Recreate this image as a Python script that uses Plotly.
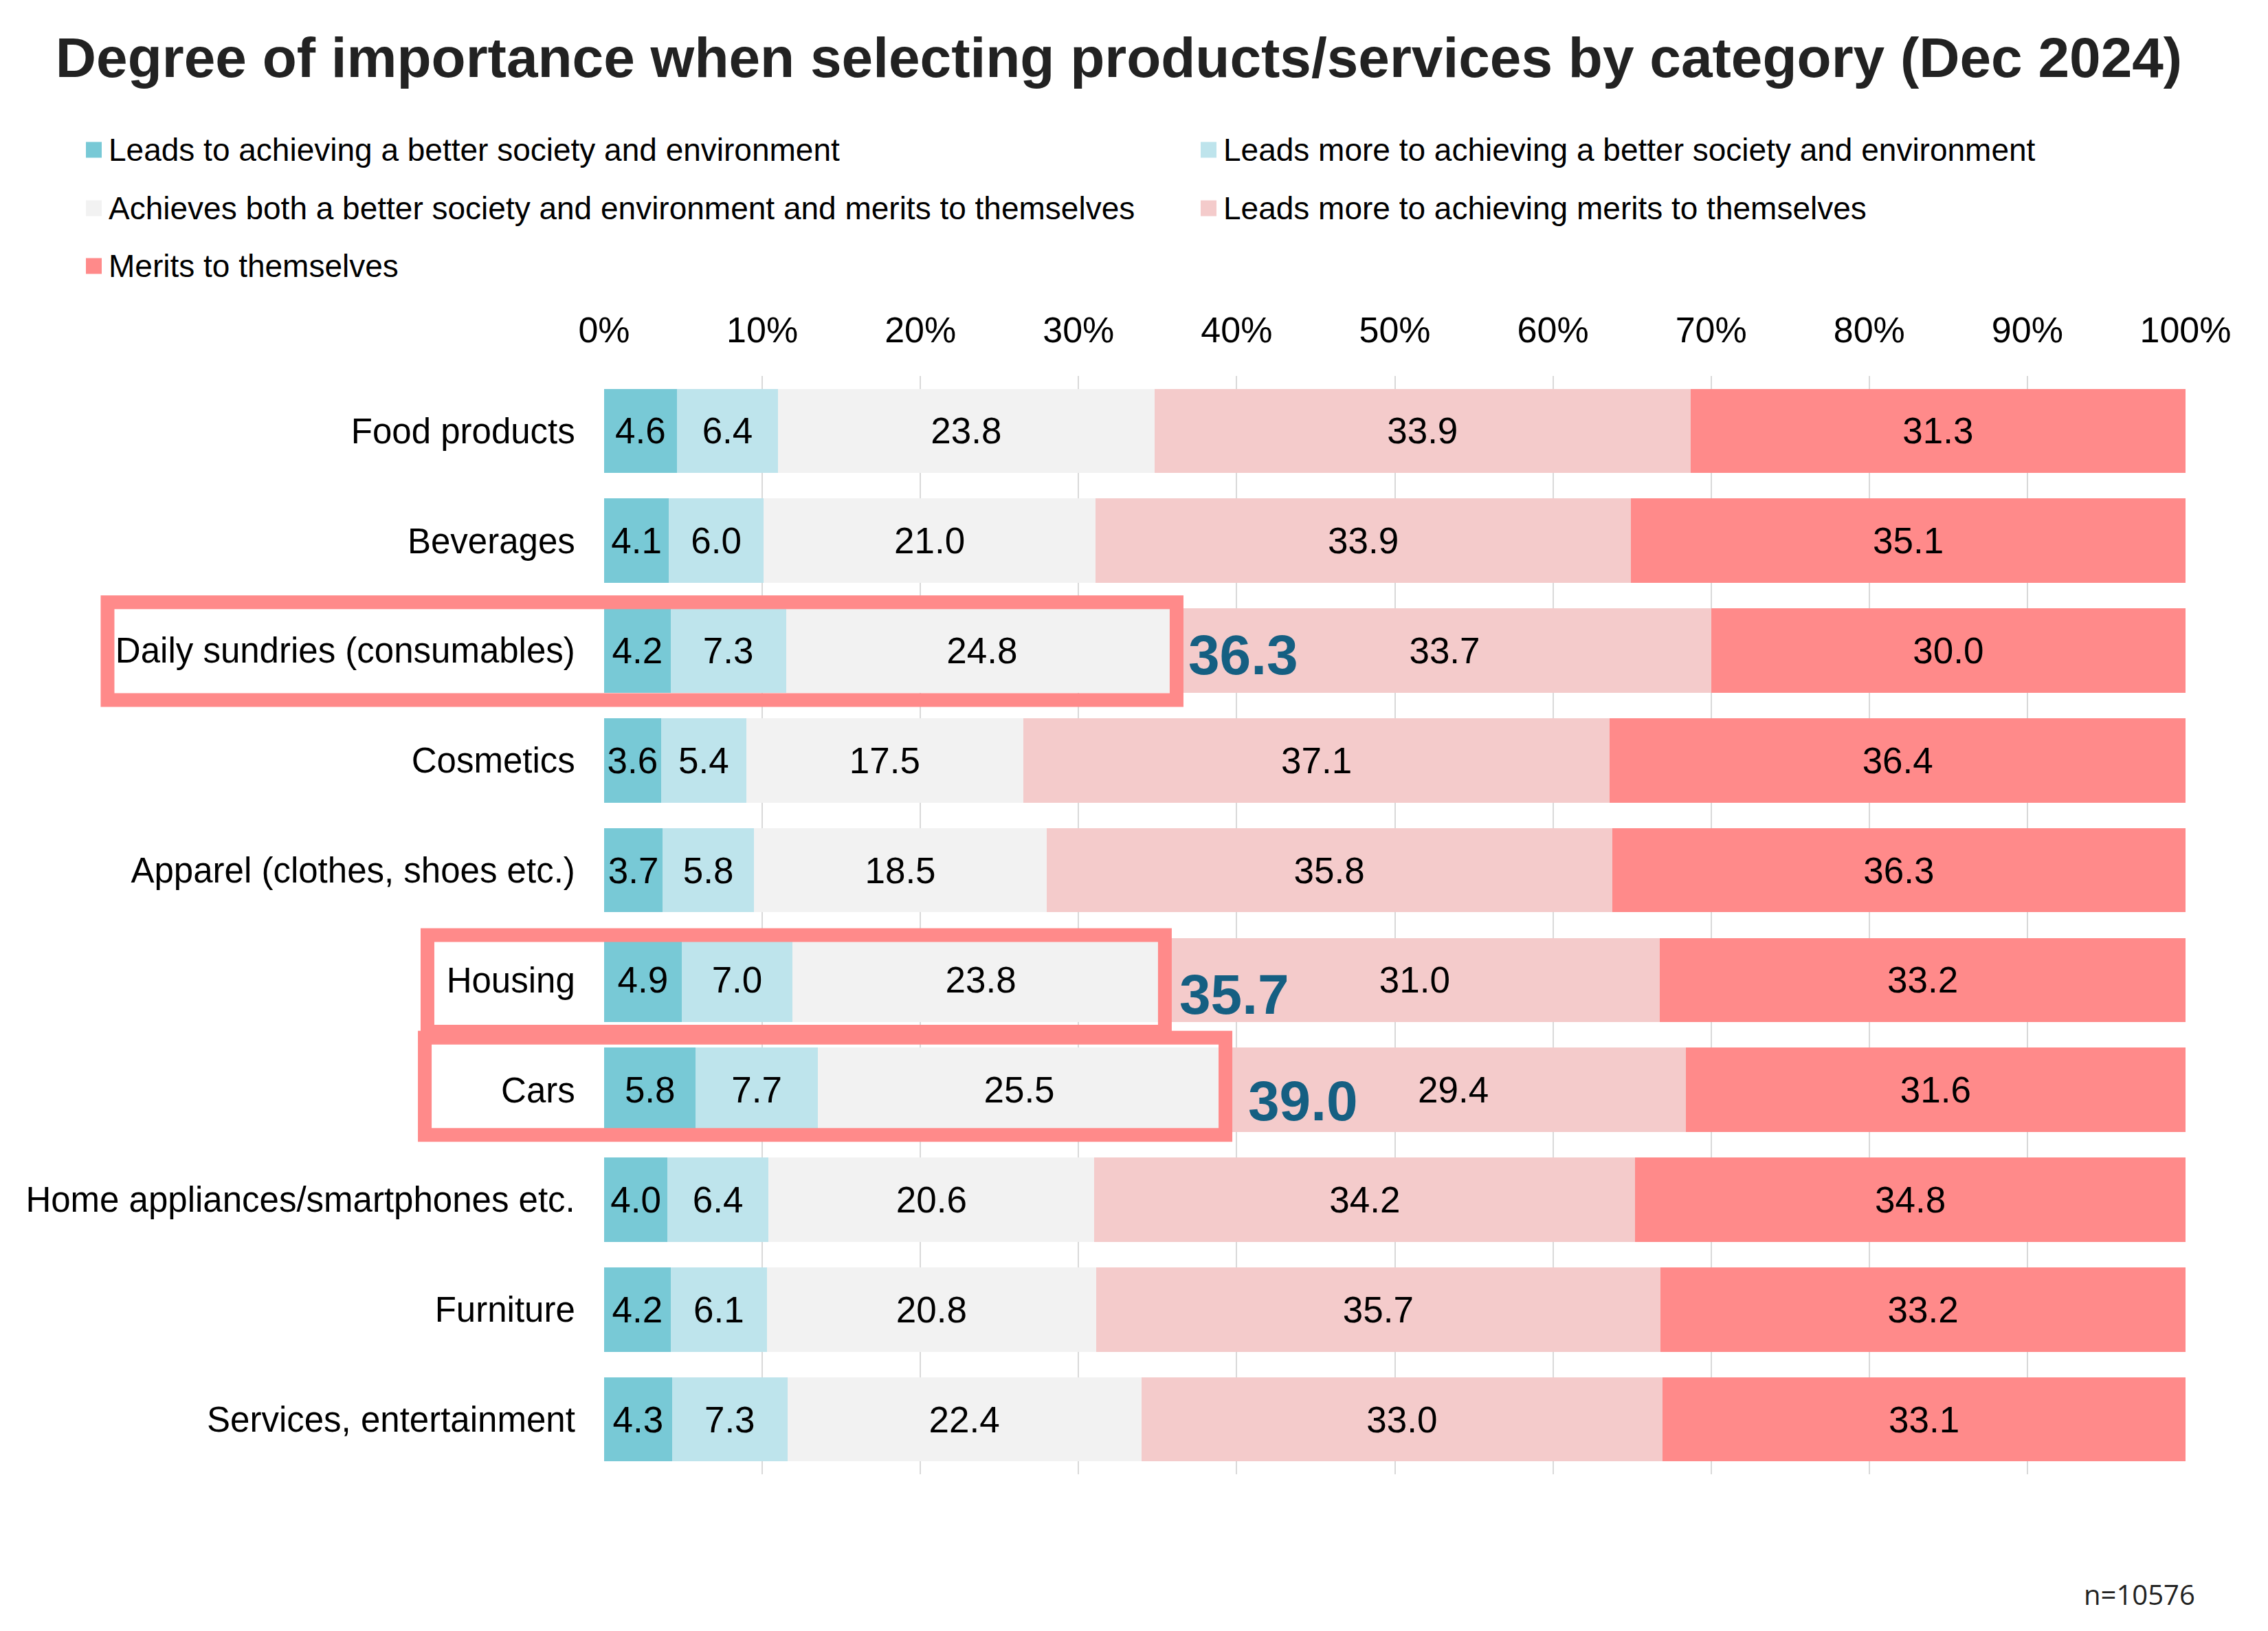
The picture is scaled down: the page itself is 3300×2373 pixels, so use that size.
import plotly.graph_objects as go

categories = ["Food products", "Beverages", "Daily sundries (consumables)", "Cosmetics",
              "Apparel (clothes, shoes etc.)", "Housing", "Cars",
              "Home appliances/smartphones etc.", "Furniture", "Services, entertainment"]

series_names = ["Leads to achieving a better society and environment",
                "Leads more to achieving a better society and environment",
                "Achieves both a better society and environment and merits to themselves",
                "Leads more to achieving merits to themselves",
                "Merits to themselves"]

s1 = [4.6, 4.1, 4.2, 3.6, 3.7, 4.9, 5.8, 4.0, 4.2, 4.3]
s2 = [6.4, 6.0, 7.3, 5.4, 5.8, 7.0, 7.7, 6.4, 6.1, 7.3]
s3 = [23.8, 21.0, 24.8, 17.5, 18.5, 23.8, 25.5, 20.6, 20.8, 22.4]
s4 = [33.9, 33.9, 33.7, 37.1, 35.8, 31.0, 29.4, 34.2, 35.7, 33.0]
s5 = [31.3, 35.1, 30.0, 36.4, 36.3, 33.2, 31.6, 34.8, 33.2, 33.1]

colors = ["#78c9d6", "#bee4ec", "#f2f2f2", "#f4cbcb", "#ff8a8a"]

x_ticks = list(range(0, 101, 10))
highlight = ["Daily sundries (consumables)", "Housing", "Cars"]
sample_note = "n=10576"

# page offset of the default html body margin
OFF = 8
W, H = 3300, 2373
# plot area in page pixels: x 879..3180, y 547..2145
ML, MR, MT, MB = 879 - OFF, W - (3180 - OFF), 547 - OFF, H - (2145 - OFF)
PW, PH = W - ML - MR, H - MT - MB
Y_RANGE = [9.5, -0.5]

fig = go.Figure()
for name, vals, col in zip(series_names, [s1, s2, s3, s4, s5], colors):
    fig.add_trace(go.Bar(
        y=categories, x=vals, name=name, orientation="h",
        marker=dict(color=col, line=dict(width=0)),
        text=[f"{v:.1f}" for v in vals],
        textposition="inside", insidetextanchor="middle", textangle=0,
        constraintext="none",
        textfont=dict(family="Liberation Sans, Arial", size=53, color="#000000"),
        showlegend=False,
    ))


def px_to_paper_x(px):
    # px given in page pixels
    return (px - OFF - ML) / PW


def py_to_paper_y(py):
    return (H - MB - (py - OFF)) / PH


def idx_to_paper_y(i):
    lo, hi = Y_RANGE[1], Y_RANGE[0]
    return 1 - (i - lo) / (hi - lo)


shapes = []
annotations = []

# legend (marker squares + labels)
leg_pos = [(125, 218), (1747, 218), (125, 303), (1747, 303), (125, 387)]
for (lx, ly), name, col in zip(leg_pos, series_names, colors):
    shapes.append(dict(type="rect", xref="paper", yref="paper",
                       x0=px_to_paper_x(lx), x1=px_to_paper_x(lx + 23),
                       y0=py_to_paper_y(ly - 11.5), y1=py_to_paper_y(ly + 11.5),
                       fillcolor=col, line=dict(width=0)))
    annotations.append(dict(xref="paper", yref="paper",
                            x=px_to_paper_x(lx + 31), y=py_to_paper_y(ly),
                            xanchor="left", yanchor="middle", showarrow=False,
                            text=name,
                            font=dict(family="Liberation Sans, Arial", size=46, color="#000000")))

# highlight boxes and summed values
box_specs = {
    "Daily sundries (consumables)": dict(xl=-31.4, xr=-0.1, top=-0.44, bot=0.45, dx=0.55, dy=0.04),
    "Housing": dict(xl=-11.17, xr=-0.24, top=-0.41, bot=0.47, dx=0.59, dy=0.13),
    "Cars": dict(xl=-11.34, xr=0.29, top=-0.475, bot=0.41, dx=1.63, dy=0.10),
}
for cat in highlight:
    i = categories.index(cat)
    total = s1[i] + s2[i] + s3[i]
    sp = box_specs[cat]
    shapes.append(dict(type="rect", xref="paper", yref="paper", layer="above",
                       x0=sp["xl"] / 100, x1=(total + sp["xr"]) / 100,
                       y0=idx_to_paper_y(i + sp["bot"]), y1=idx_to_paper_y(i + sp["top"]),
                       line=dict(color="#ff8a8a", width=20), fillcolor="rgba(0,0,0,0)"))
    annotations.append(dict(xref="x", yref="y", x=total + sp["dx"], y=i + sp["dy"],
                            xanchor="left", yanchor="middle", showarrow=False,
                            text=f"<b>{total:.1f}</b>",
                            font=dict(family="Liberation Sans, Arial", size=82, color="#155f82")))

annotations.append(dict(xref="paper", yref="paper",
                        x=px_to_paper_x(3196), y=py_to_paper_y(2319),
                        xanchor="right", yanchor="middle", showarrow=False,
                        text=sample_note,
                        font=dict(family="Open Sans", size=40, color="#222222")))

fig.update_layout(
    width=W, height=H, autosize=False,
    margin=dict(l=ML, r=MR, t=MT, b=MB, pad=0),
    barmode="stack", barnorm="percent", bargap=0.232,
    plot_bgcolor="white", paper_bgcolor="white",
    title=dict(text="<b>Degree of importance when selecting products/services by category (Dec 2024)</b>",
               x=(1628 - OFF) / W, xanchor="center", xref="container",
               y=1 - (83 - OFF) / H, yanchor="middle", yref="container",
               font=dict(family="Liberation Sans, Arial", size=82, color="#222222")),
    xaxis=dict(side="top", range=[0, 100], tickvals=x_ticks,
               ticktext=[f"{t}%" for t in x_ticks],
               showgrid=True, gridcolor="#d9d9d9", gridwidth=2, zeroline=False,
               showline=False, ticks="outside", ticklen=27, tickcolor="rgba(0,0,0,0)",
               tickfont=dict(family="Liberation Sans, Arial", size=52, color="#000000"),
               fixedrange=True),
    yaxis=dict(type="category", categoryorder="array", categoryarray=categories,
               range=Y_RANGE, showgrid=False, zeroline=False, showline=False,
               ticks="outside", ticklen=31, tickcolor="rgba(0,0,0,0)",
               tickfont=dict(family="Liberation Sans, Arial", size=51, color="#000000")),
    shapes=shapes, annotations=annotations,
    font=dict(family="Liberation Sans, Arial"),
)

fig.write_html("out.html")
